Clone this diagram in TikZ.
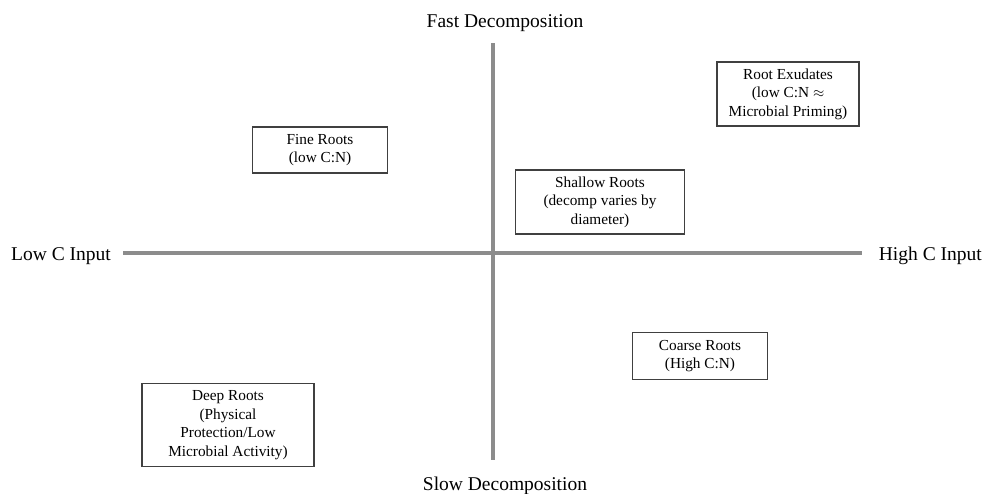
\documentclass[tikz,border=0pt]{standalone}
\usepackage{fontspec}
\setmainfont{Liberation Serif}
\usetikzlibrary{positioning}

\begin{document}
\begin{tikzpicture}[
        x=1pt, y=-1pt,
        rootbox/.style={rectangle, draw=black!75, line width=1.2pt, fill=white, align=center, font=\fontsize{15.3}{18.5}\selectfont, inner sep=2pt},
        axislabel/.style={font=\fontsize{19.5}{22}\selectfont, inner sep=0pt},
        axisline/.style={draw=black!45, line width=3.6pt}
    ]
    \useasboundingbox (0,0) rectangle (985,493);

    % Axis labels
    \node[axislabel, anchor=base] (fast) at (505,27) {Fast Decomposition};
    \node[axislabel, anchor=base] (slow) at (505,490) {Slow Decomposition};
    \node[axislabel, anchor=base west] (low) at (11,260) {Low C Input};
    \node[axislabel, anchor=base east] (high) at (982,260) {High C Input};

    % Axis ends
    \coordinate (top) at (493,43);
    \coordinate (bottom) at (493,460);
    \coordinate (left) at (123,253);
    \coordinate (right) at (862,253);

    % Axes
    \draw[axisline] (left) -- (right);
    \draw[axisline] (top) -- (bottom);

    % Root types
    \node[rootbox, minimum width=142pt, minimum height=64pt] (exudates) at (788,94) {Root Exudates\\(low C:N $\approx$\\Microbial Priming)};
    \node[rootbox, minimum width=135pt, minimum height=46pt] (fine) at (320,150) {Fine Roots\\(low C:N)};
    \node[rootbox, minimum width=169pt, minimum height=64pt] (shallow) at (600,202) {Shallow Roots\\(decomp varies by\\diameter)};
    \node[rootbox, minimum width=135pt, minimum height=47pt] (coarse) at (700,356) {Coarse Roots\\(High C:N)};
    \node[rootbox, minimum width=172pt, minimum height=83pt] (deep) at (228,425) {Deep Roots\\(Physical\\Protection/Low\\Microbial Activity)};

\end{tikzpicture}
\end{document}
